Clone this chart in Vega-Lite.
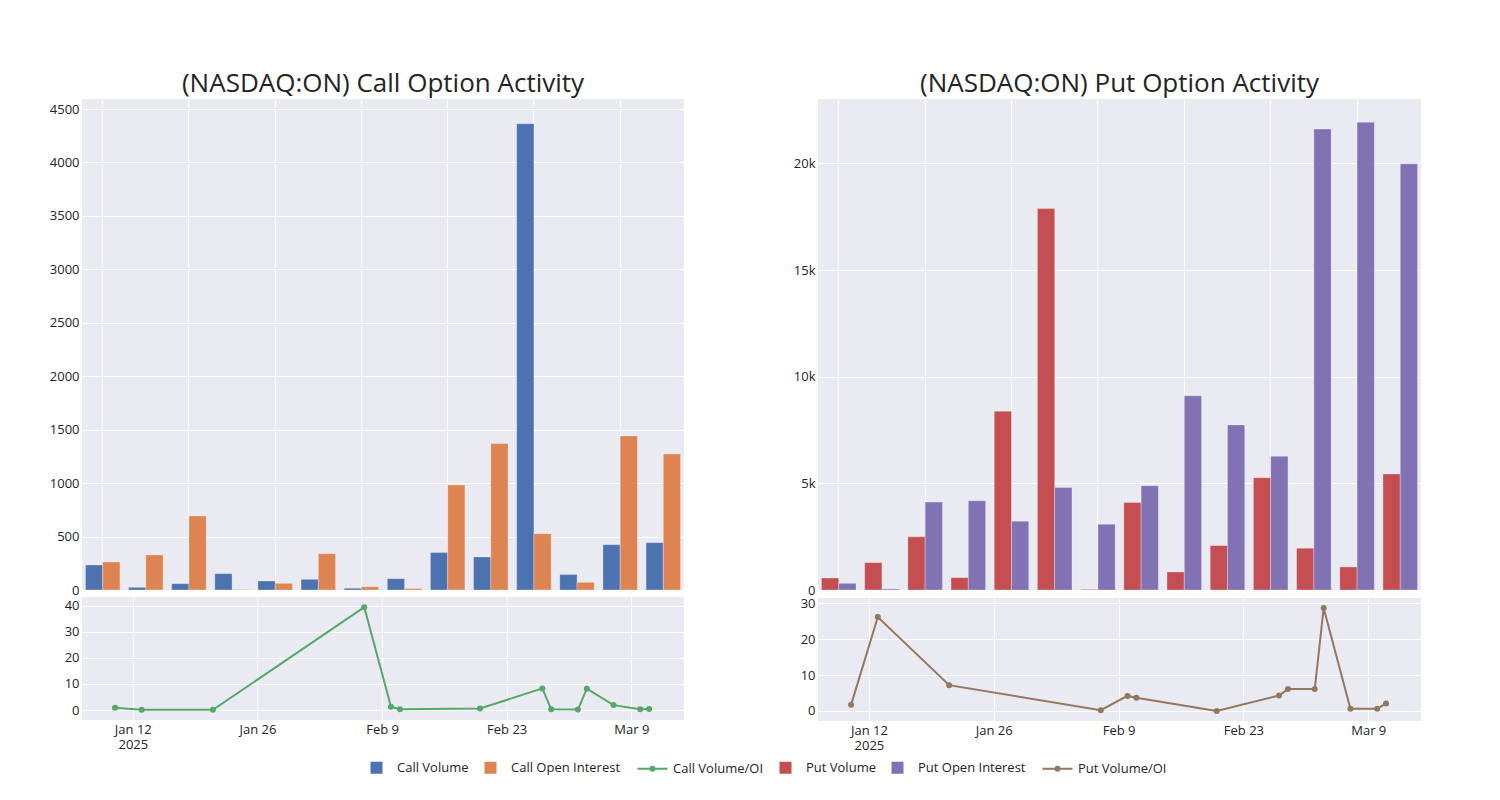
{
  "$schema": "https://vega.github.io/schema/vega-lite/v6.json",
  "background": "white",
  "padding": {"left": 49, "top": 71, "right": 0, "bottom": 0},
  "datasets": {
    "bars": [
      {"side": "Call", "date": "2025-01-10", "series": "Call Volume", "value": 234},
      {"side": "Call", "date": "2025-01-10", "series": "Call Open Interest", "value": 262},
      {"side": "Call", "date": "2025-01-13", "series": "Call Volume", "value": 25},
      {"side": "Call", "date": "2025-01-13", "series": "Call Open Interest", "value": 328},
      {"side": "Call", "date": "2025-01-21", "series": "Call Volume", "value": 59},
      {"side": "Call", "date": "2025-01-21", "series": "Call Open Interest", "value": 693},
      {"side": "Call", "date": "2025-02-07", "series": "Call Volume", "value": 153},
      {"side": "Call", "date": "2025-02-07", "series": "Call Open Interest", "value": 4},
      {"side": "Call", "date": "2025-02-10", "series": "Call Volume", "value": 84},
      {"side": "Call", "date": "2025-02-10", "series": "Call Open Interest", "value": 62},
      {"side": "Call", "date": "2025-02-11", "series": "Call Volume", "value": 100},
      {"side": "Call", "date": "2025-02-11", "series": "Call Open Interest", "value": 340},
      {"side": "Call", "date": "2025-02-20", "series": "Call Volume", "value": 16},
      {"side": "Call", "date": "2025-02-20", "series": "Call Open Interest", "value": 31},
      {"side": "Call", "date": "2025-02-27", "series": "Call Volume", "value": 106},
      {"side": "Call", "date": "2025-02-27", "series": "Call Open Interest", "value": 13},
      {"side": "Call", "date": "2025-02-28", "series": "Call Volume", "value": 350},
      {"side": "Call", "date": "2025-02-28", "series": "Call Open Interest", "value": 983},
      {"side": "Call", "date": "2025-03-03", "series": "Call Volume", "value": 309},
      {"side": "Call", "date": "2025-03-03", "series": "Call Open Interest", "value": 1370},
      {"side": "Call", "date": "2025-03-04", "series": "Call Volume", "value": 4363},
      {"side": "Call", "date": "2025-03-04", "series": "Call Open Interest", "value": 527},
      {"side": "Call", "date": "2025-03-07", "series": "Call Volume", "value": 144},
      {"side": "Call", "date": "2025-03-07", "series": "Call Open Interest", "value": 72},
      {"side": "Call", "date": "2025-03-10", "series": "Call Volume", "value": 424},
      {"side": "Call", "date": "2025-03-10", "series": "Call Open Interest", "value": 1442},
      {"side": "Call", "date": "2025-03-11", "series": "Call Volume", "value": 443},
      {"side": "Call", "date": "2025-03-11", "series": "Call Open Interest", "value": 1273},
      {"side": "Put", "date": "2025-01-10", "series": "Put Volume", "value": 564},
      {"side": "Put", "date": "2025-01-10", "series": "Put Open Interest", "value": 313},
      {"side": "Put", "date": "2025-01-13", "series": "Put Volume", "value": 1285},
      {"side": "Put", "date": "2025-01-13", "series": "Put Open Interest", "value": 49},
      {"side": "Put", "date": "2025-01-21", "series": "Put Volume", "value": 2492},
      {"side": "Put", "date": "2025-01-21", "series": "Put Open Interest", "value": 4122},
      {"side": "Put", "date": "2025-02-07", "series": "Put Volume", "value": 580},
      {"side": "Put", "date": "2025-02-07", "series": "Put Open Interest", "value": 4185},
      {"side": "Put", "date": "2025-02-10", "series": "Put Volume", "value": 8386},
      {"side": "Put", "date": "2025-02-10", "series": "Put Open Interest", "value": 3229},
      {"side": "Put", "date": "2025-02-11", "series": "Put Volume", "value": 17884},
      {"side": "Put", "date": "2025-02-11", "series": "Put Open Interest", "value": 4812},
      {"side": "Put", "date": "2025-02-20", "series": "Put Volume", "value": 31},
      {"side": "Put", "date": "2025-02-20", "series": "Put Open Interest", "value": 3088},
      {"side": "Put", "date": "2025-02-27", "series": "Put Volume", "value": 4107},
      {"side": "Put", "date": "2025-02-27", "series": "Put Open Interest", "value": 4890},
      {"side": "Put", "date": "2025-02-28", "series": "Put Volume", "value": 846},
      {"side": "Put", "date": "2025-02-28", "series": "Put Open Interest", "value": 9107},
      {"side": "Put", "date": "2025-03-03", "series": "Put Volume", "value": 2085},
      {"side": "Put", "date": "2025-03-03", "series": "Put Open Interest", "value": 7743},
      {"side": "Put", "date": "2025-03-04", "series": "Put Volume", "value": 5266},
      {"side": "Put", "date": "2025-03-04", "series": "Put Open Interest", "value": 6270},
      {"side": "Put", "date": "2025-03-07", "series": "Put Volume", "value": 1959},
      {"side": "Put", "date": "2025-03-07", "series": "Put Open Interest", "value": 21614},
      {"side": "Put", "date": "2025-03-10", "series": "Put Volume", "value": 1082},
      {"side": "Put", "date": "2025-03-10", "series": "Put Open Interest", "value": 21928},
      {"side": "Put", "date": "2025-03-11", "series": "Put Volume", "value": 5439},
      {"side": "Put", "date": "2025-03-11", "series": "Put Open Interest", "value": 19984}
    ],
    "ratio": [
      {"side": "Call", "date": "2025-01-10", "series": "Call Volume/OI", "ratio": 0.9},
      {"side": "Call", "date": "2025-01-13", "series": "Call Volume/OI", "ratio": 0.1},
      {"side": "Call", "date": "2025-01-21", "series": "Call Volume/OI", "ratio": 0.1},
      {"side": "Call", "date": "2025-02-07", "series": "Call Volume/OI", "ratio": 39.4},
      {"side": "Call", "date": "2025-02-10", "series": "Call Volume/OI", "ratio": 1.3},
      {"side": "Call", "date": "2025-02-11", "series": "Call Volume/OI", "ratio": 0.3},
      {"side": "Call", "date": "2025-02-20", "series": "Call Volume/OI", "ratio": 0.6},
      {"side": "Call", "date": "2025-02-27", "series": "Call Volume/OI", "ratio": 8.3},
      {"side": "Call", "date": "2025-02-28", "series": "Call Volume/OI", "ratio": 0.3},
      {"side": "Call", "date": "2025-03-03", "series": "Call Volume/OI", "ratio": 0.2},
      {"side": "Call", "date": "2025-03-04", "series": "Call Volume/OI", "ratio": 8.2},
      {"side": "Call", "date": "2025-03-07", "series": "Call Volume/OI", "ratio": 1.9},
      {"side": "Call", "date": "2025-03-10", "series": "Call Volume/OI", "ratio": 0.3},
      {"side": "Call", "date": "2025-03-11", "series": "Call Volume/OI", "ratio": 0.4},
      {"side": "Put", "date": "2025-01-10", "series": "Put Volume/OI", "ratio": 1.7},
      {"side": "Put", "date": "2025-01-13", "series": "Put Volume/OI", "ratio": 26.2},
      {"side": "Put", "date": "2025-01-21", "series": "Put Volume/OI", "ratio": 7.2},
      {"side": "Put", "date": "2025-02-07", "series": "Put Volume/OI", "ratio": 0.2},
      {"side": "Put", "date": "2025-02-10", "series": "Put Volume/OI", "ratio": 4.2},
      {"side": "Put", "date": "2025-02-11", "series": "Put Volume/OI", "ratio": 3.7},
      {"side": "Put", "date": "2025-02-20", "series": "Put Volume/OI", "ratio": 0.0},
      {"side": "Put", "date": "2025-02-27", "series": "Put Volume/OI", "ratio": 4.3},
      {"side": "Put", "date": "2025-02-28", "series": "Put Volume/OI", "ratio": 6.1},
      {"side": "Put", "date": "2025-03-03", "series": "Put Volume/OI", "ratio": 6.1},
      {"side": "Put", "date": "2025-03-04", "series": "Put Volume/OI", "ratio": 28.7},
      {"side": "Put", "date": "2025-03-07", "series": "Put Volume/OI", "ratio": 0.6},
      {"side": "Put", "date": "2025-03-10", "series": "Put Volume/OI", "ratio": 0.6},
      {"side": "Put", "date": "2025-03-11", "series": "Put Volume/OI", "ratio": 2.1}
    ]
  },
  "config": {
    "font": "Open Sans",
    "view": {"fill": "#EAEAF2", "stroke": null},
    "axis": {"domain": false, "ticks": false, "tickSize": 0, "gridColor": "#ffffff", "gridWidth": 1, "labelFontSize": 13, "labelColor": "#242424", "labelFont": "Open Sans", "labelPadding": 3},
    "legend": {"symbolStrokeWidth": 2}
  },
  "resolve": {"scale": {"color": "shared", "xOffset": "independent"}, "legend": {"color": "shared"}},
  "spacing": 102,
  "hconcat": [
    {
      "spacing": 0,
      "vconcat": [
        {
          "title": {"text": "(NASDAQ:ON) Call Option Activity", "fontSize": 26, "fontWeight": "normal", "font": "Open Sans", "color": "#242424", "anchor": "middle", "offset": 2},
          "width": 602, "height": 491,
          "data": {"name": "bars"},
          "transform": [{"filter": "datum.side == 'Call'"}],
          "mark": {"type": "bar", "stroke": "#ffffff", "strokeWidth": 0.6, "strokeOpacity": 0.5},
          "encoding": {
            "x": {"field": "date", "type": "ordinal", "scale": {"paddingInner": 0.2, "paddingOuter": 0.08}, "axis": {"title": null, "labels": false, "ticks": false, "domain": false, "grid": true, "bandPosition": 0.5, "values": ["2025-01-10", "2025-01-21", "2025-02-10", "2025-02-20", "2025-02-28", "2025-03-04", "2025-03-10"]}},
            "xOffset": {"field": "series", "type": "nominal", "sort": ["Call Volume", "Call Open Interest"], "scale": {"paddingInner": 0, "paddingOuter": 0}},
            "y": {"field": "value", "type": "quantitative", "scale": {"domain": [0, 4594], "nice": false}, "axis": {"title": null, "format": "d", "values": [0, 500, 1000, 1500, 2000, 2500, 3000, 3500, 4000, 4500], "minExtent": 32, "maxExtent": 32}},
            "color": {"field": "series", "type": "nominal",
              "scale": {"domain": ["Call Volume", "Call Open Interest", "Call Volume/OI", "Put Volume", "Put Open Interest", "Put Volume/OI"], "range": ["#4C72B0", "#DD8452", "#55A868", "#C44E52", "#8172B3", "#937860"]},
              "legend": {"title": null, "orient": "none", "legendX": 288, "legendY": 662, "direction": "horizontal", "columns": 6, "columnPadding": 12, "symbolSize": 100, "labelOffset": 14, "labelFontSize": 13, "labelFont": "Open Sans", "labelColor": "#242424",
                "symbolType": {"expr": "indexof(datum.value, '/OI') >= 0 ? 'M-3,0H3M0.4,0A0.4,0.4,0,1,1,-0.4,0A0.4,0.4,0,1,1,0.4,0Z' : 'square'"},
                "encode": {"symbols": {
                  "shape": {"value": {"expr": "indexof(datum.value, '/OI') >= 0 ? 'M-3,0H3M0.4,0A0.4,0.4,0,1,1,-0.4,0A0.4,0.4,0,1,1,0.4,0Z' : 'square'"}},
                  "fill": {"value": {"expr": "scale('color', datum.value)"}},
                  "stroke": {"value": {"expr": "scale('color', datum.value)"}},
                  "strokeWidth": {"value": 2},
                  "opacity": {"value": 1}, "fillOpacity": {"value": 1}, "strokeOpacity": {"value": 1}
                }}}}
          }
        },
        {
          "width": 602, "height": 123,
          "data": {"name": "ratio"},
          "transform": [{"filter": "datum.side == 'Call'"}],
          "mark": {"type": "line", "strokeWidth": 2, "point": {"size": 36, "filled": true, "opacity": 1}},
          "encoding": {
            "x": {"field": "date", "type": "temporal", "scale": {"type": "utc", "nice": false, "domain": [{"year": 2025, "month": 1, "date": 6, "hours": 7, "utc": true}, {"year": 2025, "month": 3, "date": 14, "hours": 22, "utc": true}]},
              "axis": {"title": null, "grid": true, "values": [{"year": 2025, "month": 1, "date": 12, "utc": true}, {"year": 2025, "month": 1, "date": 26, "utc": true}, {"year": 2025, "month": 2, "date": 9, "utc": true}, {"year": 2025, "month": 2, "date": 23, "utc": true}, {"year": 2025, "month": 3, "date": 9, "utc": true}],
                "labelExpr": "utcmonth(datum.value) == 0 && utcdate(datum.value) == 12 ? ['Jan 12', '2025'] : utcFormat(datum.value, '%b %-d')", "labelAlign": "center"}},
            "y": {"field": "ratio", "type": "quantitative", "scale": {"domain": [-3.8, 43.3], "nice": false, "zero": false}, "axis": {"title": null, "values": [0, 10, 20, 30, 40], "minExtent": 32, "maxExtent": 32}},
            "color": {"field": "series", "type": "nominal"}
          }
        }
      ]
    },
    {
      "spacing": 0,
      "vconcat": [
        {
          "title": {"text": "(NASDAQ:ON) Put Option Activity", "fontSize": 26, "fontWeight": "normal", "font": "Open Sans", "color": "#242424", "anchor": "middle", "offset": 2},
          "width": 603, "height": 491,
          "data": {"name": "bars"},
          "transform": [{"filter": "datum.side == 'Put'"}],
          "mark": {"type": "bar", "stroke": "#ffffff", "strokeWidth": 0.6, "strokeOpacity": 0.5},
          "encoding": {
            "x": {"field": "date", "type": "ordinal", "scale": {"paddingInner": 0.2, "paddingOuter": 0.08}, "axis": {"title": null, "labels": false, "ticks": false, "domain": false, "grid": true, "bandPosition": 0.5, "values": ["2025-01-10", "2025-01-21", "2025-02-10", "2025-02-20", "2025-02-28", "2025-03-04", "2025-03-10"]}},
            "xOffset": {"field": "series", "type": "nominal", "sort": ["Put Volume", "Put Open Interest"], "scale": {"paddingInner": 0, "paddingOuter": 0}},
            "y": {"field": "value", "type": "quantitative", "scale": {"domain": [0, 23024], "nice": false}, "axis": {"title": null, "values": [0, 5000, 10000, 15000, 20000], "labelExpr": "datum.value == 0 ? '0' : (datum.value / 1000) + 'k'", "minExtent": 32, "maxExtent": 32}},
            "color": {"field": "series", "type": "nominal"}
          }
        },
        {
          "width": 603, "height": 123,
          "data": {"name": "ratio"},
          "transform": [{"filter": "datum.side == 'Put'"}],
          "mark": {"type": "line", "strokeWidth": 2, "point": {"size": 36, "filled": true, "opacity": 1}},
          "encoding": {
            "x": {"field": "date", "type": "temporal", "scale": {"type": "utc", "nice": false, "domain": [{"year": 2025, "month": 1, "date": 6, "hours": 7, "utc": true}, {"year": 2025, "month": 3, "date": 14, "hours": 22, "utc": true}]},
              "axis": {"title": null, "grid": true, "values": [{"year": 2025, "month": 1, "date": 12, "utc": true}, {"year": 2025, "month": 1, "date": 26, "utc": true}, {"year": 2025, "month": 2, "date": 9, "utc": true}, {"year": 2025, "month": 2, "date": 23, "utc": true}, {"year": 2025, "month": 3, "date": 9, "utc": true}],
                "labelExpr": "utcmonth(datum.value) == 0 && utcdate(datum.value) == 12 ? ['Jan 12', '2025'] : utcFormat(datum.value, '%b %-d')", "labelAlign": "center"}},
            "y": {"field": "ratio", "type": "quantitative", "scale": {"domain": [-2.8, 31.5], "nice": false, "zero": false}, "axis": {"title": null, "values": [0, 10, 20, 30], "minExtent": 32, "maxExtent": 32}},
            "color": {"field": "series", "type": "nominal"}
          }
        }
      ]
    }
  ]
}
